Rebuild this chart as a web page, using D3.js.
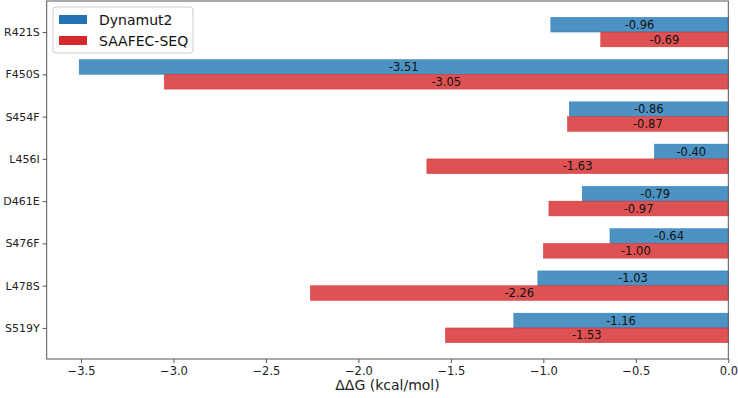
<!DOCTYPE html>
<html><head><meta charset="utf-8">
<script src="https://cdn.jsdelivr.net/npm/d3@7"></script>
<style>body{margin:0;background:#fff}svg{display:block}text{font-family:"DejaVu Sans",sans-serif}</style>
</head><body><svg id="c" width="738" height="398"></svg>
<script>
const categories = ["R421S","F450S","S454F","L456I","D461E","S476F","L478S","S519Y"];
const dynamut2 = [-0.96,-3.51,-0.86,-0.40,-0.79,-0.64,-1.03,-1.16];
const saafec = [-0.69,-3.05,-0.87,-1.63,-0.97,-1.00,-2.26,-1.53];
const seriesNames = ["Dynamut2","SAAFEC-SEQ"];
const xTicks = [-3.5,-3.0,-2.5,-2.0,-1.5,-1.0,-0.5,0.0];
const xLabel = "ΔΔG (kcal/mol)";

const fills = ["rgba(31,119,180,0.8)","rgba(214,39,40,0.8)"];
const legendFills = ["#2472b6","#d42a2e"];
const svg = d3.select("#c");
const L = 46.7, R = 728.3, T = 1, B = 359;
const x = d3.scaleLinear().domain([-3.6855, 0]).range([L, R]);
const y = d3.scaleLinear().domain([-0.735, 7.735]).range([T, B]);
const bw = 0.35;

const series = [dynamut2, saafec];
series.forEach((vals, s) => {
  const off = s === 0 ? -bw : 0;
  const g = svg.append("g");
  g.selectAll("rect").data(vals).join("rect")
    .attr("x", d => x(d)).attr("width", d => x(0) - x(d))
    .attr("y", (d, i) => y(i + off)).attr("height", y(bw) - y(0))
    .attr("fill", fills[s]).attr("stroke", fills[s]).attr("stroke-width", 0.5);
  g.selectAll("text").data(vals).join("text")
    .attr("x", d => (x(d) + x(0)) / 2)
    .attr("y", (d, i) => y(i + off + bw / 2))
    .attr("dy", "0.36em").attr("text-anchor", "middle")
    .attr("font-size", 11.5).attr("fill", "#111")
    .text(d => d.toFixed(2));
});

// frame
svg.append("rect").attr("x", L).attr("y", T).attr("width", R - L).attr("height", B - T)
  .attr("fill", "none").attr("stroke", "#555").attr("stroke-width", 1);

// x axis
const xa = svg.append("g").attr("transform", `translate(0,${B})`)
  .call(d3.axisBottom(x).tickValues(xTicks).tickSize(4).tickPadding(4)
    .tickFormat(d => d3.format(".1f")(d).replace("-", "−")));
xa.select(".domain").remove();
xa.selectAll("line").attr("stroke", "#555");
xa.selectAll("text").attr("font-size", 11.5).attr("fill", "#222").attr("font-family", "DejaVu Sans");

// y axis
const ya = svg.append("g").attr("transform", `translate(${L},0)`)
  .call(d3.axisLeft(y).tickValues(d3.range(categories.length)).tickSize(4).tickPadding(3)
    .tickFormat(i => categories[i]));
ya.select(".domain").remove();
ya.selectAll("line").attr("stroke", "#555");
ya.selectAll("text").attr("font-size", 11).attr("fill", "#222").attr("font-family", "DejaVu Sans");

svg.append("text").attr("x", (L + R) / 2).attr("y", 390).attr("text-anchor", "middle")
  .attr("font-size", 14).attr("fill", "#222").text(xLabel);

// legend
const lg = svg.append("g");
lg.append("rect").attr("x", 53).attr("y", 7).attr("width", 140).attr("height", 46).attr("rx", 3)
  .attr("fill", "rgba(255,255,255,0.8)").attr("stroke", "#ccc");
seriesNames.forEach((n, i) => {
  lg.append("rect").attr("x", 59).attr("y", 15 + i * 21).attr("width", 28).attr("height", 9)
    .attr("fill", legendFills[i]);
  lg.append("text").attr("x", 99).attr("y", 20 + i * 21).attr("dy", "0.36em")
    .attr("font-size", 14).attr("fill", "#111").text(n);
});
</script></body></html>
